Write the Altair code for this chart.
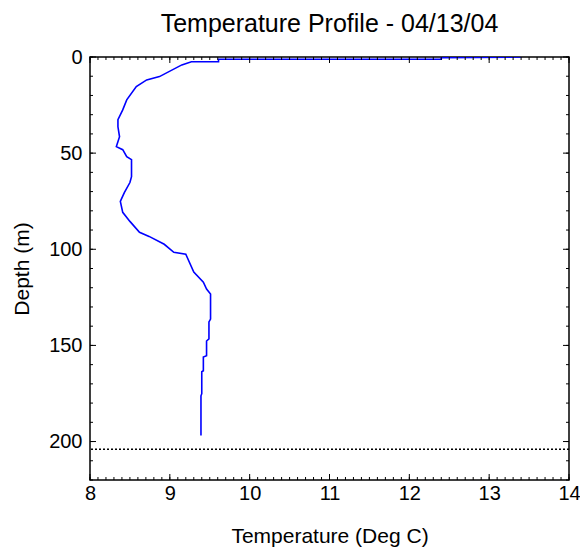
import altair as alt
import pandas as pd

# Temperature profile data
temperature = [13.40, 12.40, 12.40, 9.61, 9.61, 9.27, 9.15, 8.87, 8.71, 8.58,
               8.46, 8.41, 8.35, 8.35, 8.37, 8.33, 8.41, 8.46, 8.52, 8.52,
               8.50, 8.43, 8.38, 8.41, 8.50, 8.62, 8.74, 8.93, 9.05, 9.20,
               9.30, 9.42, 9.46, 9.51, 9.51, 9.49, 9.49, 9.46, 9.46, 9.42,
               9.42, 9.40, 9.40, 9.39, 9.39]
depth = [0.0, 0.3, 1.2, 1.2, 2.5, 2.5, 4.1, 10.2, 11.9, 15.4,
         22.3, 27.5, 32.6, 36.3, 41.5, 46.6, 48.2, 51.8, 53.4, 62.2,
         65.3, 70.5, 75.1, 80.8, 85.5, 91.2, 93.3, 97.4, 101.6, 102.6,
         111.9, 117.1, 120.7, 123.3, 136.3, 137.8, 146.6, 147.7, 155.4, 156.0,
         163.2, 163.7, 175.1, 176.2, 196.9]
bottom_depth = [204]

x_major = [8, 9, 10, 11, 12, 13, 14]
x_minor = [round(8 + 0.1 * i, 1) for i in range(61)]
y_major = [0, 50, 100, 150, 200]
y_minor = [10 * i for i in range(23)]

W, H = 479, 423
FONT = "Liberation Sans"

df = pd.DataFrame({"temp": temperature, "depth": depth, "order": list(range(len(depth)))})
bdf = pd.DataFrame({"depth": bottom_depth})
xmin_df = pd.DataFrame({"v": x_minor})
xmaj_df = pd.DataFrame({"v": x_major})
ymin_df = pd.DataFrame({"v": y_minor})
ymaj_df = pd.DataFrame({"v": y_major})

xscale = alt.Scale(domain=[8, 14], nice=False, zero=False)
yscale = alt.Scale(domain=[0, 220], nice=False, zero=False, reverse=True)

line = alt.Chart(df).mark_line(color="#0000ff", strokeWidth=1.6, clip=True).encode(
    x=alt.X("temp:Q", scale=xscale,
            axis=alt.Axis(values=x_major, title="Temperature (Deg C)", ticks=False,
                          domain=False, grid=False, labelPadding=3, titlePadding=22,
                          labelFontSize=20, titleFontSize=21, labelFont=FONT, titleFont=FONT,
                          labelColor="#000", titleColor="#000", titleFontWeight="normal",
                          labelFlush=False)),
    y=alt.Y("depth:Q", scale=yscale,
            axis=alt.Axis(values=y_major, title="Depth (m)", ticks=False,
                          domain=False, grid=False, labelPadding=8, titlePadding=16,
                          labelFontSize=20, titleFontSize=21, labelFont=FONT, titleFont=FONT,
                          labelColor="#000", titleColor="#000", titleFontWeight="normal",
                          labelBaseline="middle")),
    order="order:Q",
)

rule = alt.Chart(bdf).mark_rule(color="black", strokeWidth=1.5, strokeDash=[2, 2]).encode(
    y=alt.Y("depth:Q", scale=yscale, axis=None)
)


def xticks(data, size):
    bottom = alt.Chart(data).mark_rule(color="black", strokeWidth=1).encode(
        x=alt.X("v:Q", scale=xscale, axis=None),
        y=alt.value(H), y2=alt.value(H - size))
    top = alt.Chart(data).mark_rule(color="black", strokeWidth=1).encode(
        x=alt.X("v:Q", scale=xscale, axis=None),
        y=alt.value(0), y2=alt.value(size))
    return [bottom, top]


def yticks(data, size):
    left = alt.Chart(data).mark_rule(color="black", strokeWidth=1).encode(
        y=alt.Y("v:Q", scale=yscale, axis=None),
        x=alt.value(0), x2=alt.value(size))
    right = alt.Chart(data).mark_rule(color="black", strokeWidth=1).encode(
        y=alt.Y("v:Q", scale=yscale, axis=None),
        x=alt.value(W), x2=alt.value(W - size))
    return [left, right]


ticks = xticks(xmin_df, 3) + xticks(xmaj_df, 6) + yticks(ymin_df, 3) + yticks(ymaj_df, 6)

chart = alt.layer(line, rule, *ticks).resolve_axis(
    x="independent", y="independent"
).properties(
    width=W, height=H,
    title=alt.TitleParams("Temperature Profile - 04/13/04", fontSize=25, font=FONT,
                          fontWeight="normal", color="#000", anchor="middle", offset=10),
    autosize=alt.AutoSizeParams(type="none"),
    padding={"left": 82, "top": 49, "right": 11, "bottom": 67},
).configure_view(stroke="black", strokeWidth=1.5)

chart.save("out.html", embed_options={"renderer": "svg", "actions": False})
